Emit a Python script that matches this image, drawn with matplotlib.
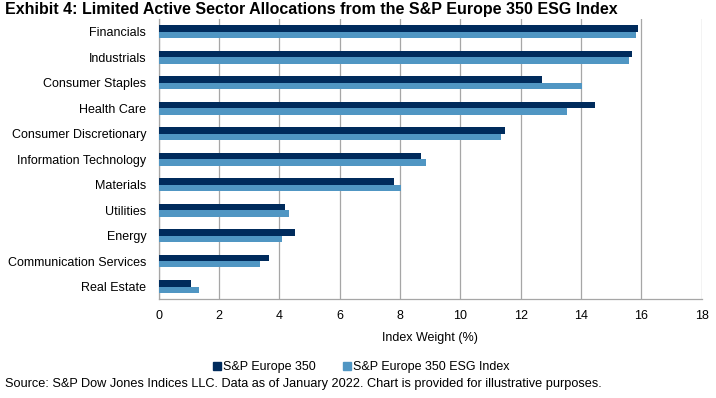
import numpy as np
import matplotlib
matplotlib.use("Agg")
import matplotlib.pyplot as plt
from matplotlib.patches import Patch

plt.rcParams['font.family'] = ['Liberation Sans', 'DejaVu Sans']

sectors = ["Financials", "Industrials", "Consumer Staples", "Health Care",
           "Consumer Discretionary", "Information Technology", "Materials",
           "Utilities", "Energy", "Communication Services", "Real Estate"]
europe350 = [15.89, 15.70, 12.72, 14.47, 11.49, 8.70, 7.80, 4.19, 4.52, 3.65, 1.07]
europe350_esg = [15.83, 15.60, 14.03, 13.55, 11.36, 8.87, 8.03, 4.31, 4.09, 3.36, 1.33]
series_names = ["S&P Europe 350", "S&P Europe 350 ESG Index"]
xticks = [0, 2, 4, 6, 8, 10, 12, 14, 16, 18]

dark = "#002B5C"
light = "#5096C3"
grid = "#A6A6A6"

fig = plt.figure(figsize=(7.16, 3.98), dpi=100)
ax = fig.add_axes([0.2216, 0.248, 0.7584, 0.704])

y = np.arange(len(sectors))
h = 0.25
ax.barh(y - h / 2, europe350, height=h, color=dark, zorder=3)
ax.barh(y + h / 2, europe350_esg, height=h, color=light, zorder=3)

ax.set_xlim(0, 18)
ax.set_ylim(len(sectors) - 0.5, -0.5)
ax.set_xticks(xticks)
ax.set_xticklabels([str(t) for t in xticks])
ax.set_yticks(y)
ax.set_yticklabels(sectors)
ax.tick_params(axis='both', length=0, labelsize=9, colors='black')
ax.tick_params(axis='y', pad=9)
ax.tick_params(axis='x', pad=8)
ax.xaxis.grid(True, color=grid, linewidth=0.9, zorder=0)
for s in ['top', 'right']:
    ax.spines[s].set_visible(False)
for s in ['left', 'bottom']:
    ax.spines[s].set_color(grid)
    ax.spines[s].set_linewidth(0.9)
ax.set_xlabel("Index Weight (%)", fontsize=9, labelpad=7)

handles = [Patch(color=dark), Patch(color=light)]
fig.legend(handles, series_names, loc='center', bbox_to_anchor=(0.505, 0.078),
           ncol=2, frameon=False, fontsize=9, handlelength=0.6, handleheight=0.6,
           handletextpad=0.2, columnspacing=2.2)

fig.text(0.007, 0.975, "Exhibit 4: Limited Active Sector Allocations from the S&P Europe 350 ESG Index",
         fontsize=11.5, fontweight='bold', va='center', ha='left')
fig.text(0.007, 0.035, "Source: S&P Dow Jones Indices LLC. Data as of January 2022. Chart is provided for illustrative purposes.",
         fontsize=9.15, va='center', ha='left')

fig.savefig("out.png", dpi=100)
